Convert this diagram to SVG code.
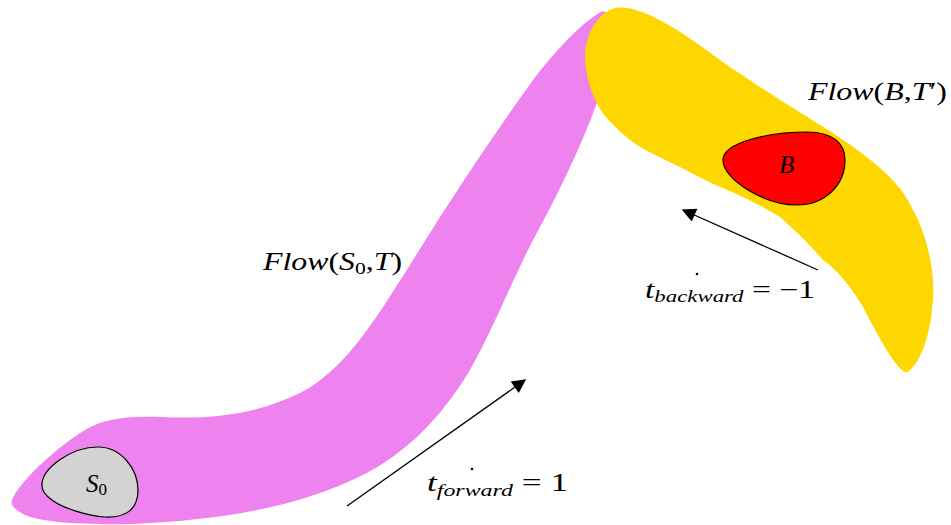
<svg xmlns="http://www.w3.org/2000/svg" width="951" height="525" viewBox="0 0 951 525">
<style>
.m{font-family:"Liberation Serif","DejaVu Serif",serif;font-size:25px;fill:#000}
.i{font-style:italic}
.sub{font-size:17px}
.blob{stroke:#000;stroke-width:1.2}
.conn{stroke:#000;stroke-width:1.3;fill:none}
</style>
<defs>
<marker id="ah" viewBox="0 0 10 10" refX="9" refY="5" markerWidth="17" markerHeight="14" markerUnits="userSpaceOnUse" orient="auto">
<path d="M0,0 L10,5 L0,10 Z" fill="#000"/>
</marker>
</defs>
<rect width="951" height="525" fill="#fff"/>
<g id="flow-s0">
<path fill="#EE82EE" d="M12,500 C20,480 60,445 85,430 C105,418 130,416 160,417 C220,420 260,412 300,393 C345,370 375,320 410,265 C450,200 490,140 533,80 C560,45 585,20 603,11 L607,13 C606,45 603,80 598,100 C580,150 555,200 533,240 C510,285 495,325 470,370 C440,420 400,460 350,481 C290,508 220,520 133,524 C80,525 40,522 25,515 C15,510 10,505 12,500 Z"/>
</g>
<g id="flow-b">
<path fill="#FFD700" d="M615,8 C640,4 680,30 720,60 C760,88 800,112 833,133 C870,158 900,180 913,210 C930,240 935,280 933,300 C931,330 923,360 908,372 C900,376 880,340 863,307 C850,285 835,268 823,260 C810,245 795,230 780,217 C760,205 740,195 720,187 C700,178 690,172 680,167 C655,155 640,148 630,140 C612,125 600,112 597,103 C590,90 586,75 585,60 C584,35 598,12 615,8 Z"/>
</g>
<g id="s0">
<path class="blob" fill="#D3D3D3" d="M42,486 C41,468 72,447 98,447 C122,447 138,470 138,490 C138,510 125,518 105,517 C88,516 62,508 52,500 C45,495 42,490 42,486 Z"/>
<text class="m" x="86" y="492"><tspan class="i">S</tspan><tspan class="sub" dy="3">0</tspan></text>
</g>
<g id="b">
<path class="blob" fill="#FF0000" d="M723,160 C723,142 770,132 807,132 C835,132 845,145 845,160 C845,185 825,205 797,205 C765,205 723,180 723,160 Z"/>
<text class="m i" x="779" y="173">B</text>
</g>
<g id="label-flow-s0">
<text class="m" x="263" y="270" textLength="139" lengthAdjust="spacingAndGlyphs"><tspan class="i">Flow</tspan>(<tspan class="i">S</tspan><tspan class="sub" dy="4">0</tspan><tspan dy="-4">,</tspan><tspan class="i">T</tspan>)</text>
</g>
<g id="label-flow-b">
<text class="m" x="808" y="100" textLength="139" lengthAdjust="spacingAndGlyphs"><tspan class="i">Flow</tspan>(<tspan class="i">B</tspan>,<tspan class="i">T</tspan>′)</text>
</g>
<g id="label-forward">
<circle cx="472" cy="469" r="1.3" fill="#000"/>
<text class="m" x="427" y="491" textLength="141" lengthAdjust="spacingAndGlyphs"><tspan class="i">t</tspan><tspan class="i sub" dy="5">forward</tspan><tspan dy="-5"> = 1</tspan></text>
</g>
<g id="label-backward">
<circle cx="697" cy="274" r="1.3" fill="#000"/>
<text class="m" x="645" y="298" textLength="170" lengthAdjust="spacingAndGlyphs"><tspan class="i">t</tspan><tspan class="i sub" dy="4">backward</tspan><tspan dy="-4"> = −1</tspan></text>
</g>
<g id="connectors">
<line class="conn" x1="347" y1="506" x2="525" y2="380" marker-end="url(#ah)"/>
<line class="conn" x1="818" y1="270" x2="683" y2="210" marker-end="url(#ah)"/>
</g>
</svg>
